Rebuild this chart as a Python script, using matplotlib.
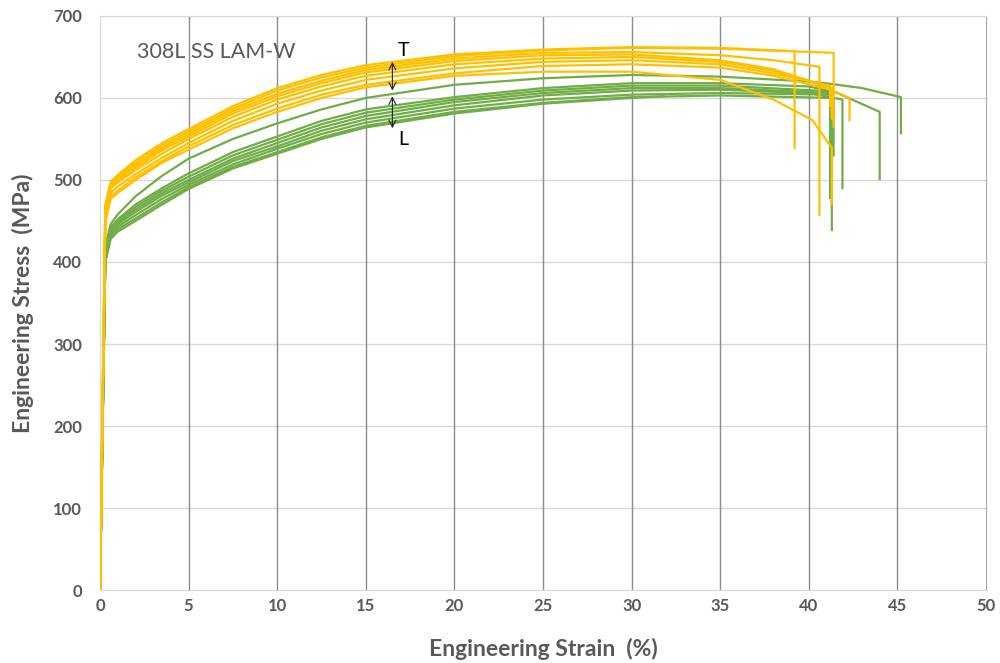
import matplotlib
matplotlib.use("Agg")
from matplotlib import pyplot as plt

plt.rcParams['font.family'] = ['Lato', 'DejaVu Sans']

# common strain grid (%) for the body of every curve
grid = [0, 0.3, 0.6, 1, 2, 3.5, 5, 7.5, 10, 12.5, 15, 20, 25, 30, 35]

# T direction (orange) - stress (MPa) on grid, then tail points (strain, stress)
t_stress = [
    [0, 470, 498, 506, 524, 545, 562, 590, 612, 628, 640, 653, 659, 662, 661],
    [0, 468, 496, 504, 521, 542, 559, 587, 609, 625, 637, 651, 658, 661, 660],
    [0, 465, 494, 502, 518, 539, 556, 584, 605, 621, 634, 648, 655, 656, 652],
    [0, 462, 492, 500, 515, 536, 553, 581, 602, 618, 631, 645, 652, 653, 646],
    [0, 460, 490, 497, 512, 532, 550, 577, 598, 614, 627, 641, 648, 650, 644],
    [0, 455, 485, 492, 507, 527, 545, 572, 593, 609, 622, 636, 644, 646, 641],
    [0, 450, 480, 487, 503, 523, 541, 567, 587, 604, 616, 630, 639, 641, 637],
    [0, 448, 477, 484, 500, 521, 537, 563, 583, 600, 613, 627, 632, 632, 622],
]
t_tail_strain = [
    [39.2, 39.2],
    [41.4, 41.4],
    [38, 40.6, 40.6],
    [38, 41.3, 41.3],
    [38, 40, 42.3, 42.3],
    [38, 41.2, 41.2],
    [38, 41.3, 41.3],
    [38, 40.2, 41.3, 41.3],
]
t_tail_stress = [
    [657, 539],
    [655, 565],
    [646, 638, 457],
    [635, 612, 575],
    [633, 621, 600, 573],
    [630, 615, 590],
    [627, 610, 585],
    [598, 573, 539, 470],
]

# L direction (green)
l_stress = [
    [0, 420, 446, 458, 480, 505, 526, 550, 569, 586, 600, 616, 624, 628, 626],
    [0, 415, 442, 452, 470, 490, 508, 534, 553, 572, 586, 601, 612, 618, 618],
    [0, 412, 440, 450, 467, 487, 504, 530, 549, 568, 582, 598, 609, 615, 615],
    [0, 410, 438, 448, 464, 484, 500, 526, 545, 564, 578, 595, 606, 612, 612],
    [0, 408, 436, 446, 461, 481, 497, 523, 541, 560, 574, 591, 603, 609, 610],
    [0, 405, 433, 443, 457, 477, 494, 519, 538, 556, 570, 587, 598, 604, 606],
    [0, 402, 430, 440, 453, 473, 491, 516, 534, 552, 566, 583, 594, 601, 603],
    [0, 400, 428, 437, 450, 470, 489, 514, 532, 550, 564, 581, 593, 600],
]
l_tail_strain = [
    [40, 41.3, 43, 45.2, 45.2],
    [40, 41.5, 44.0, 44.0],
    [41.3, 41.3],
    [41.2, 41.2],
    [40, 41.9, 41.9],
    [41.3, 41.3],
    [41.4, 41.4],
    [31.8],
]
l_tail_stress = [
    [620, 617, 612, 601, 557],
    [614, 607, 583, 501],
    [608, 439],
    [606, 478],
    [606, 598, 490],
    [604, 469],
    [600, 530],
    [602],
]

orange = '#FFC000'
green = '#70AD47'

fig = plt.figure(figsize=(10, 6.63), dpi=100)
ax = fig.add_axes([0.1, 0.11, 0.886, 0.866])

for s, ts, tv in zip(l_stress, l_tail_strain, l_tail_stress):
    ax.plot(grid[:len(s)] + ts, s + tv, color=green, lw=1.6, zorder=3)
for s, ts, tv in zip(t_stress, t_tail_strain, t_tail_stress):
    ax.plot(grid[:len(s)] + ts, s + tv, color=orange, lw=1.6, zorder=4)

ax.set_xlim(0, 50)
ax.set_ylim(0, 700)
ax.set_xticks(range(0, 51, 5))
ax.set_yticks(range(0, 701, 100))
for y in range(100, 701, 100):
    ax.axhline(y, color='#D9D9D9', lw=1, zorder=1)
for x in range(5, 50, 5):
    ax.axvline(x, color='#8C8C8C', lw=1, zorder=2)

for side in ['left', 'bottom', 'top']:
    ax.spines[side].set_color('#D9D9D9')
ax.spines['right'].set_color('#A6A6A6')
ax.tick_params(length=0, colors='#595959', labelsize=12)
ax.tick_params(axis='x', pad=6)
ax.tick_params(axis='y', pad=13)
for lab in ax.get_xticklabels() + ax.get_yticklabels():
    lab.set_fontweight('bold')

ax.set_xlabel('Engineering Strain  (%)', fontsize=16.5, fontweight='bold', color='#595959', labelpad=17)
ax.set_ylabel('Engineering Stress  (MPa)', fontsize=16.5, fontweight='bold', color='#595959', labelpad=14)

ax.text(2.1, 656, '308L SS LAM-W', fontsize=15.5, color='#595959', va='center', ha='left')
ax.text(17.1, 658, 'T', fontsize=14, color='black', va='center', ha='center', zorder=6)
ax.text(17.1, 549, 'L', fontsize=14, color='black', va='center', ha='center', zorder=6)
arrow = dict(arrowstyle='<->,head_length=0.5,head_width=0.25', color='#222222', lw=0.8,
             shrinkA=0, shrinkB=0)
ax.annotate('', xy=(16.5, 644), xytext=(16.5, 609), arrowprops=arrow, zorder=6)
ax.annotate('', xy=(16.5, 602), xytext=(16.5, 563), arrowprops=arrow, zorder=6)

fig.savefig('out.png', dpi=100)
